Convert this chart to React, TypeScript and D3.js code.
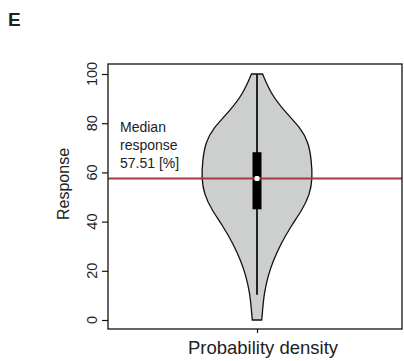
import React, { useEffect, useRef } from "react";
import * as d3 from "d3";

// response level (%) and relative density at that level (max = 1)
const levels = [0, 4, 11, 18, 24, 31, 38, 45, 51, 57.5, 65, 72, 78, 85, 92, 100];
const density = [0.085, 0.1, 0.13, 0.2, 0.29, 0.43, 0.61, 0.82, 0.95, 1.0, 0.98, 0.93, 0.79, 0.49, 0.25, 0.1];

// box plot summary
const whisker = [10.3, 100];
const quartiles = [45, 68.2];
const median = 57.51;

const yTicks = [0, 20, 40, 60, 80, 100];
const medianLabel = ["Median", "response", median.toFixed(2) + " [%]"];

const W = 404,
  H = 361;
const box = { left: 108, right: 402, top: 64, bottom: 329 };

export default function App() {
  const ref = useRef<SVGSVGElement>(null);

  useEffect(() => {
    const svg = d3.select(ref.current);
    svg.selectAll("*").remove();
    const font = "'Liberation Sans', Arial, Helvetica, sans-serif";

    const y = d3.scaleLinear().domain([0, 100]).range([320, 74]);
    const x = d3.scaleLinear().domain([-1, 1]).range([201.5, 312.5]);

    // panel letter
    svg
      .append("text")
      .attr("x", 8)
      .attr("y", 26)
      .attr("font-family", font)
      .attr("font-weight", "bold")
      .attr("font-size", 19)
      .attr("fill", "#222")
      .text("E");

    // violin
    const pts = levels.map((l, i) => ({ l, d: density[i] }));
    const area = d3
      .area<{ l: number; d: number }>()
      .y((d) => y(d.l))
      .x0((d) => x(-d.d))
      .x1((d) => x(d.d))
      .curve(d3.curveBasis);
    svg
      .append("path")
      .datum(pts)
      .attr("d", area)
      .attr("fill", "#cdcfcf")
      .attr("stroke", "#111")
      .attr("stroke-width", 1.3);

    // whisker line
    svg
      .append("line")
      .attr("x1", x(0))
      .attr("x2", x(0))
      .attr("y1", y(whisker[0]))
      .attr("y2", y(whisker[1]))
      .attr("stroke", "#111")
      .attr("stroke-width", 1.8);

    // IQR box
    svg
      .append("rect")
      .attr("x", x(0) - 4.5)
      .attr("width", 9)
      .attr("y", y(quartiles[1]))
      .attr("height", y(quartiles[0]) - y(quartiles[1]))
      .attr("fill", "#000");

    // median reference line
    svg
      .append("line")
      .attr("x1", box.left)
      .attr("x2", box.right)
      .attr("y1", y(median))
      .attr("y2", y(median))
      .attr("stroke", "#a83a3e")
      .attr("stroke-width", 2);

    // median dot
    svg
      .append("rect")
      .attr("x", x(0) - 2.5)
      .attr("y", y(median) - 2.5)
      .attr("width", 5)
      .attr("height", 5)
      .attr("rx", 1.5)
      .attr("fill", "#fff");

    // frame
    svg
      .append("rect")
      .attr("x", box.left)
      .attr("y", box.top)
      .attr("width", box.right - box.left)
      .attr("height", box.bottom - box.top)
      .attr("fill", "none")
      .attr("stroke", "#111")
      .attr("stroke-width", 1.3);

    // y axis
    const yAxis = svg
      .append("g")
      .attr("transform", `translate(${box.left},0)`)
      .call(d3.axisLeft(y).tickValues(yTicks).tickSize(6).tickFormat(() => ""));
    yAxis.select(".domain").remove();
    yAxis.selectAll("line").attr("stroke", "#111").attr("stroke-width", 1.2);

    svg
      .append("g")
      .selectAll("text")
      .data(yTicks)
      .enter()
      .append("text")
      .attr("transform", (d) => `translate(97,${y(d)}) rotate(-90)`)
      .attr("text-anchor", "middle")
      .attr("font-family", font)
      .attr("font-size", 14.5)
      .attr("fill", "#222")
      .text((d) => d);

    // x axis: one tick at the violin centre
    const xAxis = svg
      .append("g")
      .attr("transform", `translate(0,${box.bottom})`)
      .call(d3.axisBottom(x).tickValues([0]).tickSize(4).tickFormat(() => ""));
    xAxis.select(".domain").remove();
    xAxis.selectAll("line").attr("stroke", "#111").attr("stroke-width", 1.2);

    // axis titles
    svg
      .append("text")
      .attr("transform", `translate(69,184) rotate(-90)`)
      .attr("text-anchor", "middle")
      .attr("font-family", font)
      .attr("font-size", 16)
      .attr("fill", "#222")
      .text("Response");

    svg
      .append("text")
      .attr("x", 263)
      .attr("y", 354)
      .attr("text-anchor", "middle")
      .attr("font-family", font)
      .attr("font-size", 18.5)
      .attr("fill", "#222")
      .text("Probability density");

    // median annotation
    svg
      .append("g")
      .selectAll("text")
      .data(medianLabel)
      .enter()
      .append("text")
      .attr("x", 120)
      .attr("y", (d, i) => 132 + i * 18)
      .attr("font-family", font)
      .attr("font-size", 14)
      .attr("fill", "#222")
      .text((d) => d);
  }, []);

  return (
    <svg
      ref={ref}
      width={W}
      height={H}
      style={{ position: "absolute", left: 0, top: 0, background: "#fff" }}
    />
  );
}
